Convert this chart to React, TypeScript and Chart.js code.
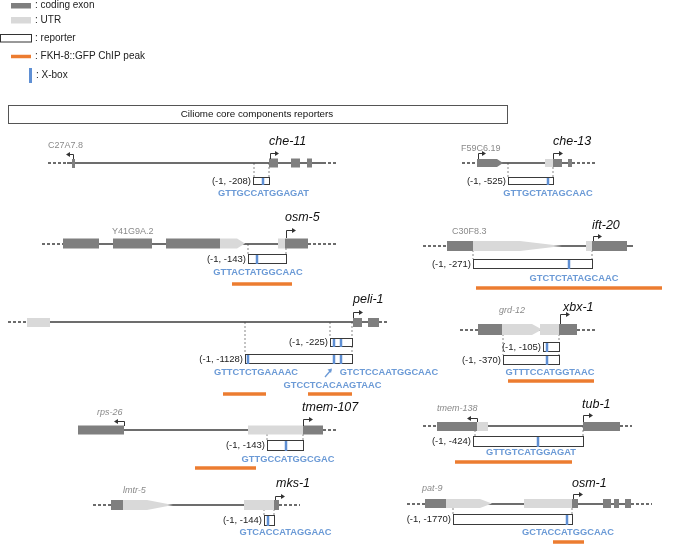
import { useEffect, useRef } from "react";
import { Chart, registerables } from "chart.js";
Chart.register(...registerables);

// ---------- data (diagram coordinates: x along figure, y row from top) ----------
const title = "Ciliome core components reporters";
const legendLabels = ["coding exon", "UTR", "reporter", "FKH-8::GFP ChIP peak", "X-box"];

// genomic backbone segments [x0, x1, y]
const backboneSolid: number[][] = [
  [67, 323, 163], [477, 572, 163], [62, 308, 244], [447, 633, 246], [27, 379, 322],
  [478, 577, 330], [124, 248, 430], [437, 620, 426], [111, 279, 505], [425, 631, 504],
];
const backboneDashed: number[][] = [
  [48, 67, 163], [323, 338, 163], [462, 477, 163], [572, 597, 163], [42, 62, 244],
  [308, 338, 244], [423, 447, 246], [8, 27, 322], [379, 388, 322], [460, 478, 330],
  [577, 596, 330], [323, 338, 430], [423, 437, 426], [620, 632, 426], [93, 111, 505],
  [279, 300, 505], [407, 425, 504], [631, 652, 504],
];
// coding exons [x0, x1, yCenter, height, tip]
const codingExons: number[][] = [
  [72, 75, 163.5, 9, 0], [269, 278, 163, 9, 0], [291, 300, 163, 9, 0], [307, 312, 163, 9, 0],
  [477, 497, 163, 8, 503], [553, 562, 163, 8, 0], [568, 572, 163, 8, 0],
  [63, 99, 243.5, 10, 0], [113, 152, 243.5, 10, 0], [166, 220, 243.5, 10, 0], [285, 308, 243.5, 10, 0],
  [447, 473, 246, 10, 0], [592, 627, 246, 10, 0],
  [353, 362, 322.5, 9, 0], [368, 379, 322.5, 9, 0],
  [478, 502, 329.5, 11, 0], [559, 577, 329.5, 11, 0],
  [78, 124, 430, 9, 0], [303, 323, 430, 9, 0],
  [437, 477, 426.5, 9, 0], [583, 620, 426.5, 9, 0],
  [111, 123, 505, 10, 0], [274, 279, 505, 10, 0],
  [425, 446, 503.5, 9, 0], [572, 578, 503.5, 9, 0], [603, 611, 503.5, 9, 0], [614, 619, 503.5, 9, 0], [625, 631, 503.5, 9, 0],
];
// UTRs [x0, x1, yCenter, height, tip]
const utrs: number[][] = [
  [545, 553, 163, 8, 0],
  [220, 237, 243.5, 10, 245], [278, 285, 243.5, 10, 0],
  [473, 520, 246, 10, 562], [586, 592, 246, 10, 0],
  [27, 50, 322.5, 9, 0],
  [502, 532, 329.5, 11, 542], [540, 559, 329.5, 11, 0],
  [248, 303, 430, 9, 0],
  [477, 488, 426.5, 9, 0],
  [123, 147, 505, 10, 173], [244, 274, 505, 10, 0],
  [446, 480, 503.5, 9, 492], [524, 572, 503.5, 9, 0],
];
// transcription start arrows [x, yBase, yTop, xEnd]
const tssArrows: number[][] = [
  [73, 159, 154, 66], [270, 159, 153, 279], [478, 159, 153, 486], [553, 159, 153, 563],
  [286, 238, 230, 296], [593, 241, 236, 602], [353, 318, 312, 363], [560, 324, 314, 570],
  [124, 426, 421, 114], [303, 426, 419, 313], [477, 422, 418, 467], [583, 422, 415, 593],
  [275, 500, 496, 285], [573, 499, 494, 583],
];
// reporter gene names [text, x, y]
const geneNames: [string, number, number][] = [
  ["che-11", 269, 142], ["che-13", 553, 142], ["osm-5", 285, 218], ["ift-20", 592, 226],
  ["peli-1", 353, 300], ["xbx-1", 563, 308], ["tmem-107", 302, 408], ["tub-1", 582, 405],
  ["mks-1", 276, 484], ["osm-1", 572, 484],
];
// neighbouring genes [text, x, y, italic]
const neighborNames: [string, number, number, number][] = [
  ["C27A7.8", 48, 146, 0], ["F59C6.19", 461, 149, 0], ["Y41G9A.2", 112, 232, 0], ["C30F8.3", 452, 232, 0],
  ["grd-12", 499, 310, 1], ["rps-26", 97, 412, 1], ["tmem-138", 437, 408, 1], ["lmtr-5", 123, 490, 1],
  ["pat-9", 422, 488, 1],
];
// dotted guide lines [x, y0, y1]
const guides: number[][] = [
  [254, 163, 177], [269, 163, 177], [508, 163, 177], [553, 163, 177],
  [248, 244, 254], [286, 244, 254], [473, 246, 259], [592, 246, 259],
  [245, 322, 354], [330, 322, 338], [352, 322, 354], [503, 330, 355], [559, 330, 355],
  [267, 430, 440], [303, 430, 440], [475, 426, 436], [583, 426, 436],
  [264, 505, 515], [274, 505, 515], [453, 504, 514], [572, 504, 514],
];
// reporters [label, x0, x1, yTop, height]
const reporters: [string, number, number, number, number][] = [
  ["(-1, -208)", 253, 269, 177, 7], ["(-1, -525)", 508, 553, 177, 7],
  ["(-1, -143)", 248, 286, 254, 9], ["(-1, -271)", 473, 592, 259, 9],
  ["(-1, -225)", 330, 352, 338, 8], ["(-1, -1128)", 245, 352, 354, 9],
  ["(-1, -105)", 543, 559, 342, 9], ["(-1, -370)", 503, 559, 355, 9],
  ["(-1, -143)", 267, 303, 440, 10], ["(-1, -424)", 473, 583, 436, 10],
  ["(-1, -144)", 264, 274, 515, 10], ["(-1, -1770)", 453, 572, 514, 10],
];
// X-box sites [reporter index, x]
const xBoxes: number[][] = [
  [0, 263], [1, 548], [2, 257], [3, 569], [4, 334], [4, 341], [5, 248], [5, 334], [5, 341],
  [6, 547], [7, 547], [8, 286], [9, 538], [10, 268], [11, 567],
];
// X-box sequences [text, xCenter, y]
const sequences: [string, number, number][] = [
  ["GTTGCCATGGAGAT", 263.5, 193], ["GTTGCTATAGCAAC", 548, 193], ["GTTACTATGGCAAC", 258, 272],
  ["GTCTCTATAGCAAC", 574, 278], ["GTTCTCTGAAAAC", 256, 372], ["GTCTCCAATGGCAAC", 389, 372],
  ["GTCCTCACAAGTAAC", 332.5, 385], ["GTTTCCATGGTAAC", 550, 372], ["GTTGCCATGGCGAC", 288, 459],
  ["GTTGTCATGGAGAT", 531, 452], ["GTCACCATAGGAAC", 285.5, 532], ["GCTACCATGGCAAC", 568, 532],
];
// FKH-8::GFP ChIP peaks [x0, x1, y]
const chipPeaks: number[][] = [
  [232, 292, 284], [476, 662, 288], [223, 266, 394], [308, 352, 394], [508, 594, 381],
  [195, 256, 468], [455, 572, 462], [553, 584, 542],
];

// ---------- styles ----------
const FONT = '"Liberation Sans", Arial, sans-serif';
const DARK = "#7f7f7f";
const LIGHT = "#d9d9d9";
const LINE = "#3c3c3c";
const ORANGE = "#ec7c30";
const XBLUE = "#5f8fd3";
const SEQBLUE = "#6b9ad6";
const GRAY_TXT = "#8a8a8a";

function seg(x0: number, x1: number, y0: number, y1: number, color: string, width: number, dash: number[] = []) {
  return {
    type: "line" as const,
    data: [{ x: x0, y: y0 }, { x: x1, y: y1 }],
    borderColor: color,
    borderWidth: width,
    borderDash: dash,
    pointRadius: 0,
    fill: false,
    tension: 0,
  };
}

const diagramPlugin = {
  id: "diagram",
  afterDatasetsDraw(chart: any) {
    const ctx: CanvasRenderingContext2D = chart.ctx;
    const X = (v: number) => chart.scales.x.getPixelForValue(v);
    const Y = (v: number) => chart.scales.y.getPixelForValue(v);
    ctx.save();

    const shape = (r: number[], color: string) => {
      const [x0, x1, y, h, tip] = r;
      ctx.fillStyle = color;
      ctx.beginPath();
      ctx.moveTo(X(x0), Y(y - h / 2));
      ctx.lineTo(X(x1), Y(y - h / 2));
      if (tip) ctx.lineTo(X(tip), Y(y));
      ctx.lineTo(X(x1), Y(y + h / 2));
      ctx.lineTo(X(x0), Y(y + h / 2));
      ctx.closePath();
      ctx.fill();
    };
    utrs.forEach((r) => shape(r, LIGHT));
    codingExons.forEach((r) => shape(r, DARK));

    // TSS arrows
    ctx.strokeStyle = "#333";
    ctx.fillStyle = "#333";
    ctx.lineWidth = 1;
    tssArrows.forEach(([x, yb, yt, xe]) => {
      const px = Math.round(X(x)) + 0.5;
      const py = Math.round(Y(yt)) + 0.5;
      const pe = X(xe);
      const d = pe > px ? 1 : -1;
      ctx.beginPath();
      ctx.moveTo(px, Y(yb));
      ctx.lineTo(px, py);
      ctx.lineTo(pe - d * 3, py);
      ctx.stroke();
      ctx.beginPath();
      ctx.moveTo(pe, py);
      ctx.lineTo(pe - d * 4, py - 2.5);
      ctx.lineTo(pe - d * 4, py + 2.5);
      ctx.closePath();
      ctx.fill();
    });

    // reporters
    ctx.textBaseline = "middle";
    ctx.textAlign = "right";
    ctx.font = `9.5px ${FONT}`;
    reporters.forEach(([label, x0, x1, yt, h]) => {
      ctx.fillStyle = "#fff";
      const l = Math.round(X(x0)) + 0.5, t = Math.round(Y(yt)) + 0.5;
      const w = Math.round(X(x1) - X(x0)), hh = Math.round(Y(yt + h) - Y(yt));
      ctx.fillRect(l, t, w, hh);
      ctx.strokeStyle = "#3a3a3a";
      ctx.lineWidth = 1;
      ctx.strokeRect(l, t, w, hh);
      ctx.fillStyle = "#222";
      ctx.fillText(label, X(x0) - 2, Y(yt + h / 2) + 0.5);
    });
    ctx.fillStyle = XBLUE;
    xBoxes.forEach(([ri, x]) => {
      const r = reporters[ri];
      ctx.fillRect(X(x) - 1.25, Y(r[3]) + 1, 2.5, Y(r[3] + r[4]) - Y(r[3]));
    });

    // sequences
    ctx.textAlign = "center";
    ctx.font = `bold 9.3px ${FONT}`;
    ctx.fillStyle = SEQBLUE;
    sequences.forEach(([t, x, y]) => ctx.fillText(t, X(x), Y(y)));
    // pointer arrow to the second peli-1 X-box
    ctx.strokeStyle = SEQBLUE;
    ctx.lineWidth = 1.3;
    ctx.beginPath();
    ctx.moveTo(X(325), Y(377));
    ctx.lineTo(X(331), Y(370));
    ctx.stroke();
    ctx.beginPath();
    ctx.moveTo(X(332), Y(368.5));
    ctx.lineTo(X(327.5), Y(369.5));
    ctx.lineTo(X(331), Y(373));
    ctx.closePath();
    ctx.fill();

    // names
    ctx.textAlign = "left";
    ctx.fillStyle = "#111";
    ctx.font = `italic 12.5px ${FONT}`;
    geneNames.forEach(([t, x, y]) => ctx.fillText(t, X(x), Y(y)));
    ctx.fillStyle = GRAY_TXT;
    neighborNames.forEach(([t, x, y, it]) => {
      ctx.font = `${it ? "italic " : ""}9px ${FONT}`;
      ctx.fillText(t, X(x), Y(y));
    });

    // legend
    const ly = [5.5, 20, 38, 56, 75];
    ctx.fillStyle = DARK;
    ctx.fillRect(X(11), Y(3), X(31) - X(11), Y(8.5) - Y(3));
    ctx.fillStyle = LIGHT;
    ctx.fillRect(X(11), Y(17), X(31) - X(11), Y(23.5) - Y(17));
    ctx.strokeStyle = "#333";
    ctx.lineWidth = 1;
    ctx.strokeRect(X(0) + 0.5, Y(34) + 0.5, X(31) - X(0), Y(41.5) - Y(34));
    ctx.fillStyle = XBLUE;
    ctx.fillRect(X(29), Y(68), 3, Y(83) - Y(68));
    ctx.fillStyle = "#222";
    ctx.font = `10px ${FONT}`;
    legendLabels.forEach((t, i) => ctx.fillText(": " + t, X(i === 4 ? 36 : 35), Y(ly[i])));

    // title box
    ctx.strokeStyle = "#555";
    ctx.strokeRect(X(8) + 0.5, Y(105) + 0.5, X(507) - X(8), Y(123) - Y(105));
    ctx.textAlign = "center";
    ctx.font = `9.8px ${FONT}`;
    ctx.fillStyle = "#111";
    ctx.fillText(title, X(257), Y(114.5));
    ctx.restore();
  },
};

export default function App() {
  const ref = useRef<HTMLCanvasElement>(null);
  useEffect(() => {
    document.body.style.margin = "0";
    const datasets: any[] = [];
    backboneSolid.forEach(([a, b, y]) => datasets.push(seg(a, b, y, y, LINE, 1.5)));
    backboneDashed.forEach(([a, b, y]) => datasets.push(seg(a, b, y, y, LINE, 1.5, [3, 2])));
    guides.forEach(([x, a, b]) => datasets.push(seg(x, x, a, b, "#888", 1, [2, 2])));
    chipPeaks.forEach(([a, b, y]) => datasets.push(seg(a, b, y, y, ORANGE, 3.5)));
    datasets.push(seg(11, 31, 56.5, 56.5, ORANGE, 3.5));
    const chart = new Chart(ref.current!, {
      type: "scatter",
      data: { datasets },
      options: {
        animation: false,
        responsive: false,
        devicePixelRatio: 1,
        layout: { padding: 0 },
        plugins: { legend: { display: false }, tooltip: { enabled: false } },
        elements: { line: { borderCapStyle: "butt" } },
        scales: {
          x: { type: "linear", min: 0, max: 677, display: false },
          y: { type: "linear", min: 0, max: 544, reverse: true, display: false },
        },
      },
      plugins: [diagramPlugin],
    } as any);
    return () => chart.destroy();
  }, []);
  return (
    <div style={{ width: 677, height: 544, background: "#fff" }}>
      <canvas ref={ref} width={677} height={544} />
    </div>
  );
}
